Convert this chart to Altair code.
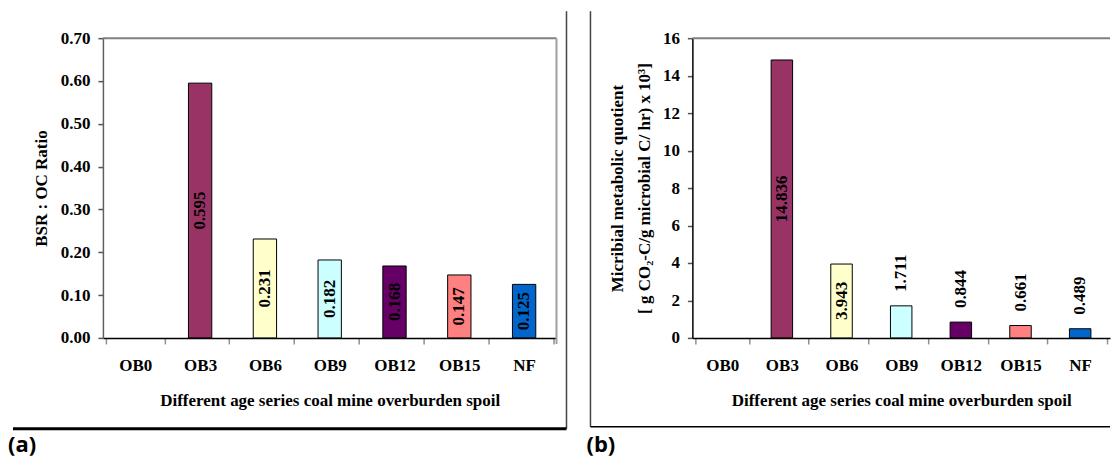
import altair as alt
import pandas as pd

# ---------------- data ----------------
categories = ["OB0", "OB3", "OB6", "OB9", "OB12", "OB15", "NF"]
bsr_oc_ratio = [None, 0.595, 0.231, 0.182, 0.168, 0.147, 0.125]
metabolic_quotient = [None, 14.836, 3.943, 1.711, 0.844, 0.661, 0.489]
bar_colors = ["#FFFFFF", "#993366", "#FFFFCC", "#CCFFFF", "#660066", "#FF8080", "#0066CC"]

x_title = "Different age series coal mine overburden spoil"
left_y_title = "BSR : OC Ratio"
right_y_title = ["Micribial metabolic quotient", "[ g CO\u2082-C/g microbial C/ hr) x 10\u00b3]"]
left_ticks = [0.0, 0.1, 0.2, 0.3, 0.4, 0.5, 0.6, 0.7]
right_ticks = [0, 2, 4, 6, 8, 10, 12, 14, 16]

df_a = pd.DataFrame({"cat": categories, "value": bsr_oc_ratio})
df_b = pd.DataFrame({"cat": categories, "value": metabolic_quotient})
one = pd.DataFrame({"k": [0]})

SERIF = "Liberation Serif"
SANS = "Open Sans"
W_A, W_B, H = 454, 418, 300

X_AXIS = alt.Axis(
    title=x_title, labelAngle=0, tickBand="extent",
    labelFont=SERIF, labelFontSize=17, labelFontWeight="bold", labelColor="black",
    labelPadding=14, tickSize=6, tickColor="#909090", tickWidth=1.5,
    domainColor="black", domainWidth=1.5,
    titleFont=SERIF, titleFontSize=17, titleFontWeight="bold", titleColor="black",
    titleBaseline="alphabetic", titleY=68, grid=False,
)


def x_enc():
    return alt.X("cat:N", sort=categories, scale=alt.Scale(domain=categories), axis=X_AXIS)


def y_axis(title, values, fmt, domain_color, title_x):
    return alt.Axis(
        title=title, values=values, format=fmt, grid=False,
        labelFont=SERIF, labelFontSize=17, labelFontWeight="bold", labelColor="black",
        labelPadding=8, tickSize=5, tickColor="#555555", tickWidth=1.5,
        domainColor=domain_color, domainWidth=1.5,
        titleFont=SERIF, titleFontSize=17, titleFontWeight="bold", titleColor="black",
        titleX=title_x, titleBaseline="middle", titleLineHeight=27,
    )


color_enc = alt.Color("cat:N", scale=alt.Scale(domain=categories, range=bar_colors), legend=None)
label_style = dict(angle=270, font=SERIF, fontSize=17, fontWeight="bold", color="black", baseline="middle")

# ---------------- panel (a) ----------------
Y_A_AXIS = y_axis(left_y_title, left_ticks, ".2f", "#606060", -61)
y_a_scale = alt.Scale(domain=[0, 0.7], nice=False)

base_a = alt.Chart(df_a).transform_calculate(mid="datum.value / 2")
bars_a = base_a.mark_bar(stroke="black", strokeWidth=1, width=alt.RelativeBandSize(0.4)).encode(
    x=x_enc(),
    y=alt.Y("value:Q", scale=y_a_scale, axis=Y_A_AXIS),
    color=color_enc,
)
labels_a = base_a.transform_filter("isValid(datum.value)").mark_text(align="center", **label_style).encode(
    x=x_enc(),
    y=alt.Y("mid:Q", scale=y_a_scale, axis=Y_A_AXIS),
    text=alt.Text("value:Q", format=".3f"),
)
top_a = alt.Chart(one).mark_rule(color="#808080", strokeWidth=2).encode(
    x=alt.value(0), x2=alt.value(W_A), y=alt.value(0))
right_a = alt.Chart(one).mark_rule(color="#A0A0A0", strokeWidth=2).encode(
    x=alt.value(W_A), y=alt.value(0), y2=alt.value(H + 6))
frame_a_v = alt.Chart(one).mark_rule(color="#444444", strokeWidth=1.5).encode(
    x=alt.value(464), y=alt.value(-27), y2=alt.value(391))
frame_a_h = alt.Chart(one).mark_rule(color="black", strokeWidth=3).encode(
    x=alt.value(-90), x2=alt.value(464), y=alt.value(391))
tag_a = alt.Chart(one).mark_text(text="(a)", font=SANS, fontSize=22, fontWeight="bold",
                                 align="left", baseline="alphabetic", color="black").encode(
    x=alt.value(-95), y=alt.value(414))

panel_a = alt.layer(bars_a, labels_a, top_a, right_a, frame_a_v, frame_a_h, tag_a).properties(
    width=W_A, height=H)

# ---------------- panel (b) ----------------
Y_B_AXIS = y_axis(right_y_title, right_ticks, "d", "black", -75)
y_b_scale = alt.Scale(domain=[0, 16], nice=False)

base_b = alt.Chart(df_b).transform_calculate(mid="datum.value / 2")
bars_b = base_b.mark_bar(stroke="black", strokeWidth=1, width=alt.RelativeBandSize(0.4)).encode(
    x=x_enc(),
    y=alt.Y("value:Q", scale=y_b_scale, axis=Y_B_AXIS),
    color=color_enc,
)
labels_b_in = base_b.transform_filter("isValid(datum.value) && datum.value > 3").mark_text(
    align="center", **label_style
).encode(
    x=x_enc(),
    y=alt.Y("mid:Q", scale=y_b_scale, axis=Y_B_AXIS),
    text=alt.Text("value:Q", format=".3f"),
)
labels_b_out = base_b.transform_filter("isValid(datum.value) && datum.value <= 3").mark_text(
    align="left", dx=14, **label_style
).encode(
    x=x_enc(),
    y=alt.Y("value:Q", scale=y_b_scale, axis=Y_B_AXIS),
    text=alt.Text("value:Q", format=".3f"),
)
top_b = alt.Chart(one).mark_rule(color="#808080", strokeWidth=2).encode(
    x=alt.value(0), x2=alt.value(W_B), y=alt.value(0))
frame_b_v = alt.Chart(one).mark_rule(color="#444444", strokeWidth=1.5).encode(
    x=alt.value(-102), y=alt.value(-27), y2=alt.value(389))
frame_b_h = alt.Chart(one).mark_rule(color="black", strokeWidth=1.5).encode(
    x=alt.value(-102), x2=alt.value(W_B), y=alt.value(389))
tag_b = alt.Chart(one).mark_text(text="(b)", font=SANS, fontSize=22, fontWeight="bold",
                                 align="left", baseline="alphabetic", color="black").encode(
    x=alt.value(-106), y=alt.value(414))

panel_b = alt.layer(bars_b, labels_b_in, labels_b_out, top_b, frame_b_v, frame_b_h, tag_b).properties(
    width=W_B, height=H)

chart = alt.hconcat(panel_a, panel_b, spacing=136, bounds="flush").properties(
    padding={"left": 0, "top": 2, "right": 0, "bottom": 4},
    background="white",
).configure_view(strokeWidth=0)

chart.save("out.html", embed_options={"renderer": "svg", "actions": False})
